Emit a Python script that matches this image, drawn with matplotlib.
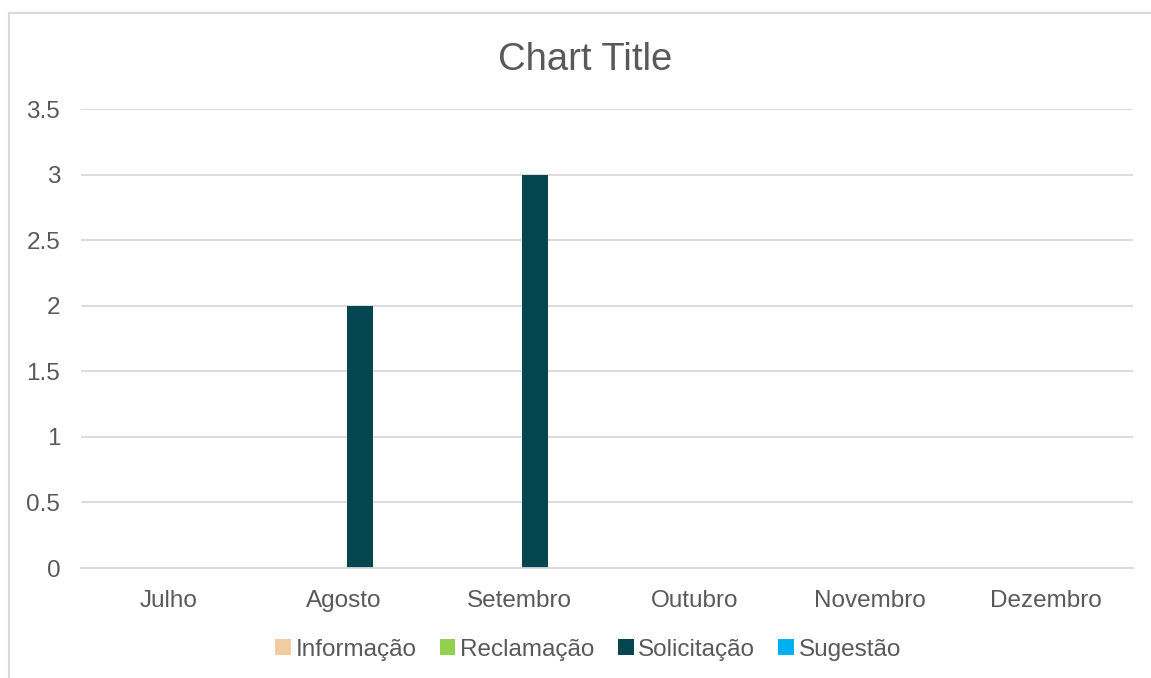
import matplotlib.pyplot as plt
from matplotlib.lines import Line2D
import numpy as np

plt.rcParams['font.family'] = ['Liberation Sans', 'DejaVu Sans']

months = ["Julho", "Agosto", "Setembro", "Outubro", "Novembro", "Dezembro"]
informacao = [0, 0, 0, 0, 0, 0]
reclamacao = [0, 0, 0, 0, 0, 0]
solicitacao = [0, 2, 3, 0, 0, 0]
sugestao = [0, 0, 0, 0, 0, 0]

series = [
    ("Informação", informacao, "#F0CDA0"),
    ("Reclamação", reclamacao, "#92D050"),
    ("Solicitação", solicitacao, "#03464F"),
    ("Sugestão", sugestao, "#00B0F0"),
]

txt = "#595959"
grid = "#D9D9D9"

fig = plt.figure(figsize=(11.51, 6.78), dpi=100)
ax = fig.add_axes([0.0704, 0.1622, 0.914, 0.677])

x = np.arange(len(months))
w = 0.148
step = 0.18
for i, (name, vals, col) in enumerate(series):
    ax.bar(x + (i - 1.5) * step, vals, width=w, color=col, label=name, linewidth=0)

ax.set_xlim(-0.5, len(months) - 0.5)
ax.set_ylim(0, 3.5)
ax.set_yticks(np.arange(0, 3.51, 0.5))
ax.set_yticklabels(["0", "0.5", "1", "1.5", "2", "2.5", "3", "3.5"])
ax.set_xticks(x)
ax.set_xticklabels(months)
ax.yaxis.grid(True, color=grid, linewidth=1.3)
ax.set_axisbelow(True)
for s in ["top", "right", "left"]:
    ax.spines[s].set_visible(False)
ax.spines["bottom"].set_color(grid)
ax.spines["bottom"].set_linewidth(1.3)
ax.tick_params(axis="both", length=0, labelsize=17.5, colors=txt)
ax.tick_params(axis="x", pad=15.5)
ax.tick_params(axis="y", pad=15)

fig.text(0.508, 0.912, "Chart Title", ha="center", va="center", fontsize=27.5, color=txt)

leg = fig.legend(loc="center", bbox_to_anchor=(0.511, 0.042), ncol=4, frameon=False,
                 fontsize=17.5, handlelength=0.65, handleheight=0.65, handletextpad=0.2,
                 columnspacing=0.95)
for t in leg.get_texts():
    t.set_color(txt)

# chart border (cut off at right and bottom)
fig.add_artist(Line2D([0.0078, 0.0078], [0.981, 0], color=grid, linewidth=1.5))
fig.add_artist(Line2D([0.0078, 1.0], [0.981, 0.981], color=grid, linewidth=1.5))

fig.savefig("out.png", dpi=100)
